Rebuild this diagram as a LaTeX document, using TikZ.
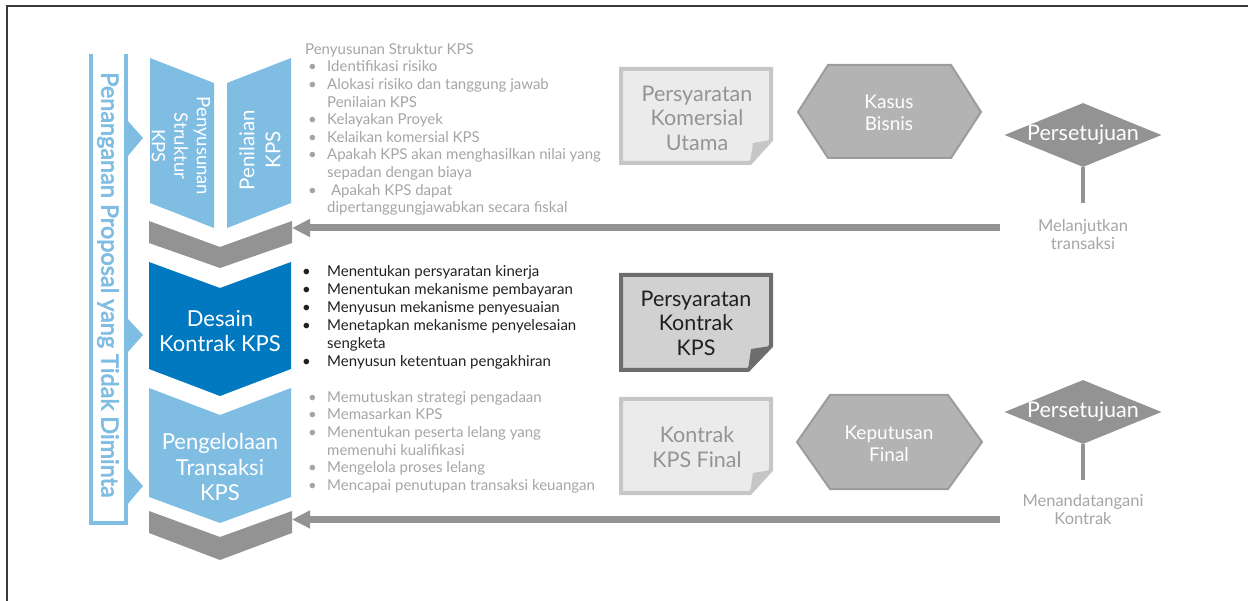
\documentclass[tikz,border=0pt]{standalone}
\usepackage{fontspec}
\setmainfont{Lato}
\newfontfamily\sidefont{Lato}[FakeBold=3]
\usetikzlibrary{arrows.meta,shapes.geometric,positioning}

\definecolor{kpsblue}{HTML}{80BDE3}
\definecolor{kpsdark}{HTML}{0079C1}
\definecolor{kpsgray}{HTML}{939393}
\definecolor{kpstext}{HTML}{A5A5A5}
\definecolor{kpsink}{HTML}{231F20}
\definecolor{notefill}{HTML}{EBEBEB}
\definecolor{noteline}{HTML}{C6C6C6}
\definecolor{notedark}{HTML}{6D6D6D}
\definecolor{notemid}{HTML}{D1D1D1}
\definecolor{hexfill}{HTML}{B3B3B3}
\definecolor{hexline}{HTML}{9C9C9C}
\definecolor{framegray}{HTML}{3A3A3A}

\newcommand{\blt}{\hspace*{3pt}\makebox[19pt][l]{\textbullet}}
\newcommand{\cnt}{\hspace*{22pt}}
\newcommand{\bltd}{\makebox[25pt][l]{\textbullet}}
\newcommand{\cntd}{\hspace*{25pt}}

\begin{document}
\begin{tikzpicture}[x=1pt, y=-1pt,
  listtext/.style={anchor=north west, inner sep=0, align=left, font=\fontsize{15}{17.6}\selectfont},
  chevtext/.style={text=white, align=center, inner sep=0, font=\fontsize{22}{25.5}\selectfont},
  notetext/.style={align=center, inner sep=0, font=\fontsize{21.5}{24.5}\selectfont},
  hextext/.style={text=white, align=center, inner sep=0, font=\fontsize{19}{22.5}\selectfont},
  approve/.style={diamond, aspect=2.45, fill=kpsgray, text=white, inner sep=-2pt, minimum width=157, minimum height=64, font=\fontsize{21.5}{22}\selectfont},
  stem/.style={kpsgray, line width=4},
  back/.style={kpsgray, line width=7, -{Triangle[length=18pt,width=17pt]}},
  steptext/.style={kpstext, align=center, inner sep=0, font=\fontsize{16.5}{18}\selectfont}]
\useasboundingbox (0,0) rectangle (1248,601);
\draw[framegray, line width=1.5] (7,605) -- (7,6) -- (1252,6);

% side label
\draw[kpsblue, line width=4] (91,54) -- (91,523) -- (126,523) -- (126,54);
\node[rotate=-90, kpsblue, inner sep=0, font=\sidefont\fontsize{23.5}{24}\selectfont] (side) at (108,285) {Penanganan Proposal yang Tidak Diminta};
\fill[kpsblue] (127,120) -- (143,138) -- (127,157) -- cycle;
\fill[kpsblue] (127,318) -- (143,335) -- (127,353) -- cycle;
\fill[kpsblue] (127,468) -- (143,486) -- (127,505) -- cycle;

% chevrons
\fill[kpsblue] (150,58) -- (214,83) -- (214,228) -- (150,203) -- cycle;
\fill[kpsblue] (227,83) -- (291,58) -- (291,203) -- (227,228) -- cycle;
\fill[kpsgray] (149,221) -- (220,247) -- (292,221) -- (292,243) -- (220,268) -- (149,243) -- cycle;
\fill[kpsdark] (149,262) -- (220,288) -- (291,262) -- (291,369) -- (220,396) -- (149,369) -- cycle;
\fill[kpsblue] (149,388) -- (220,415) -- (291,388) -- (291,497) -- (220,523) -- (149,497) -- cycle;
\fill[kpsgray] (149,511) -- (220,537) -- (292,511) -- (292,533) -- (220,560) -- (149,533) -- cycle;
\node[chevtext, rotate=-90, font=\fontsize{18.5}{22.5}\selectfont] (struktur) at (181,146) {Penyusunan\\Struktur\\KPS};
\node[chevtext, rotate=90, font=\fontsize{20.5}{26}\selectfont] (nilai) at (260,150) {Penilaian\\KPS};
\node[chevtext] (desain) at (220,331) {Desain\\Kontrak KPS};
\node[chevtext] (kelola) at (220,467) {Pengelolaan\\Transaksi\\KPS};

% lists
\node[listtext, kpstext] (list1) at (305,43) {Penyusunan Struktur KPS\\
  \blt Identifikasi risiko\\
  \blt Alokasi risiko dan tanggung jawab\\
  \cnt Penilaian KPS\\
  \blt Kelayakan Proyek\\
  \blt Kelaikan komersial KPS\\
  \blt Apakah KPS akan menghasilkan nilai yang\\
  \cnt sepadan dengan biaya\\
  \blt{} Apakah KPS dapat\\
  \cnt dipertanggungjawabkan secara fiskal};
\node[listtext, kpsink, font=\fontsize{15}{18}\selectfont] (list2) at (302,265) {\bltd Menentukan persyaratan kinerja\\
  \bltd Menentukan mekanisme pembayaran\\
  \bltd Menyusun mekanisme penyesuaian\\
  \bltd Menetapkan mekanisme penyelesaian\\
  \cntd sengketa\\
  \bltd Menyusun ketentuan pengakhiran};
\node[listtext, kpstext] (list3) at (305,391) {\blt Memutuskan strategi pengadaan\\
  \blt Memasarkan KPS\\
  \blt Menentukan peserta lelang yang\\
  \cnt memenuhi kualifikasi\\
  \blt Mengelola proses lelang\\
  \blt Mencapai penutupan transaksi keuangan};

% documents
\filldraw[fill=notefill, draw=noteline, line width=4] (621,69) -- (771,69) -- (771,140) -- (750,163) -- (621,163) -- cycle;
\fill[noteline] (771,140) -- (753,143) -- (750,163) -- cycle;
\node[notetext, kpstext!90!black] (komersial) at (697,118) {Persyaratan\\Komersial\\Utama};
\filldraw[fill=notemid, draw=notedark, line width=4] (621,275) -- (771,275) -- (771,346) -- (748,370) -- (621,370) -- cycle;
\fill[notedark] (771,346) -- (751,349) -- (748,370) -- cycle;
\node[notetext, kpsink] (kontrak) at (696,323) {Persyaratan\\Kontrak\\KPS};
\filldraw[fill=notefill, draw=noteline, line width=4] (621,399) -- (771,399) -- (771,470) -- (750,493) -- (621,493) -- cycle;
\fill[noteline] (771,470) -- (753,473) -- (750,493) -- cycle;
\node[notetext, kpstext!90!black] (final) at (697,447) {Kontrak\\KPS Final};

% hexagons
\filldraw[fill=hexfill, draw=hexline, line width=2] (798,112) -- (828,65) -- (951,65) -- (981,112) -- (951,158) -- (828,158) -- cycle;
\node[hextext] (kasus) at (889,113) {Kasus\\Bisnis};
\filldraw[fill=hexfill, draw=hexline, line width=2] (797,442) -- (830,395) -- (948,395) -- (982,442) -- (948,489) -- (830,489) -- cycle;
\node[hextext] (putus) at (889,444) {Keputusan\\Final};

% approvals
\node[approve] (setuju1) at (1083,135) {Persetujuan};
\coordinate (stem1) at (1083,203);
\draw[stem] (setuju1.south) -- (stem1);
\node[steptext] (lanjut) at (1083,234) {Melanjutkan\\transaksi};
\node[approve] (setuju2) at (1083,412) {Persetujuan};
\coordinate (stem2) at (1083,480);
\draw[stem] (setuju2.south) -- (stem2);
\node[steptext] (tanda) at (1083,509) {Menandatangani\\Kontrak};

% return arrows
\coordinate (from1) at (1000,228);
\coordinate (to1) at (292,228);
\draw[back] (from1) -- (to1);
\coordinate (from2) at (1000,519.5);
\coordinate (to2) at (292,519.5);
\draw[back] (from2) -- (to2);
\end{tikzpicture}
\end{document}
